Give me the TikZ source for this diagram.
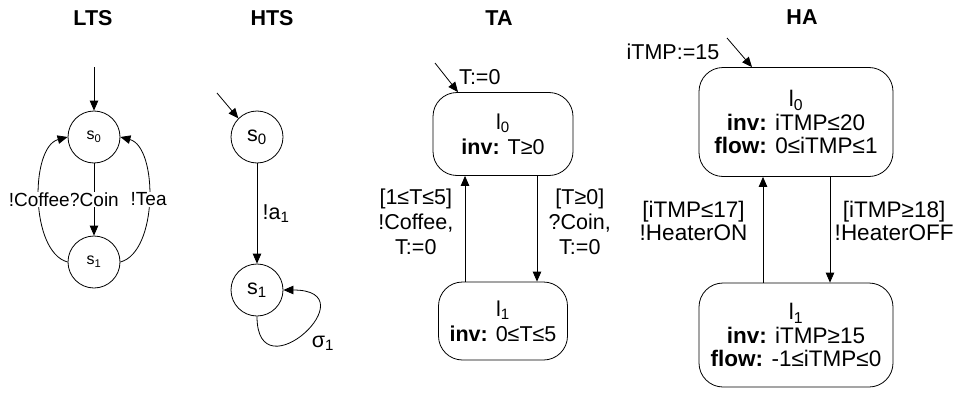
\documentclass[tikz,border=0pt]{standalone}
\usepackage{fontspec}
\setmainfont{Liberation Sans}
\usetikzlibrary{arrows.meta}

\begin{document}
\begin{tikzpicture}[
    x=1pt, y=-1pt,
    every node/.style={font=\fontsize{21.5}{25}\selectfont},
    title/.style={font=\fontsize{21.5}{24}\selectfont\bfseries},
    small/.style={font=\fontsize{19}{21}\selectfont},
    big/.style={font=\fontsize{22.5}{23.5}\selectfont},
    state/.style={
        circle,
        draw,
        line width=0.8pt,
        minimum size=52pt,
        inner sep=0pt
    },
    loc/.style={
        rectangle,
        rounded corners=24pt,
        draw,
        line width=0.8pt,
        inner sep=0pt,
        align=center
    },
    lbl/.style={fill=white, inner sep=1pt},
    arrow/.style={-{Triangle[length=10pt,width=8.5pt]}, line width=0.8pt}
]
\useasboundingbox (0,0) rectangle (960,396);

% LTS
\node[title] (tLTS) at (93,18) {LTS};
\node[state, font=\fontsize{16}{18}\selectfont] (ls0) at (94,137) {s\textsubscript{0}};
\node[state, font=\fontsize{16}{18}\selectfont] (ls1) at (94,262) {s\textsubscript{1}};
\coordinate (lin) at (94,67);

\draw[arrow] (lin) -- (ls0);
\draw[arrow] (ls0) -- node[lbl, small] {?Coin} (ls1);
\draw[arrow] (ls1.west) to[out=165, in=195, looseness=0.8] node[lbl, small] {!Coffee} (ls0.west);
\draw[arrow] (ls1.east) to[out=15, in=-15, looseness=0.8] node[lbl, small] {!Tea} (ls0.east);

% HTS
\node[title] (tHTS) at (272,18) {HTS};
\node[state] (hs0) at (257,137) {s\textsubscript{0}};
\node[state] (hs1) at (257,290) {s\textsubscript{1}};
\coordinate (hin) at (217,93);

\draw[arrow] (hin) -- (hs0.north west);
\draw[arrow] (hs0) -- node[right, xshift=2pt] {!a\textsubscript{1}} (hs1);
\draw[arrow] (hs1.south) .. controls +(0,80) and +(88,0) .. (hs1.east);
\node (sig) at (323,343) {σ\textsubscript{1}};

% TA
\node[title] (tTA) at (499,18) {TA};
\node[loc, minimum width=140pt, minimum height=83pt] (tl0) at (503,134)
    {l\textsubscript{0}\\\textbf{inv:} T≥0};
\node[loc, minimum width=129pt, minimum height=78pt] (tl1) at (503,321)
    {l\textsubscript{1}\\\textbf{inv:} 0≤T≤5};
\coordinate (tin) at (435,63);

\draw[arrow] (tin) -- node[anchor=west, xshift=9pt] {T:=0} ([xshift=-45pt]tl0.north);
\draw[arrow] ([xshift=-38pt]tl1.north) -- node[anchor=east, xshift=-8pt, yshift=7pt, align=center]
    {[1≤T≤5]\\!Coffee,\\T:=0} ([xshift=-38pt]tl0.south);
\draw[arrow] ([xshift=34pt]tl0.south) -- node[anchor=west, xshift=8pt, yshift=7pt, align=center]
    {[T≥0]\\?Coin,\\T:=0} ([xshift=34pt]tl1.north);

% HA
\node[title] (tHA) at (802,17) {HA};
\node[loc, big, minimum width=194pt, minimum height=109pt] (al0) at (796,122)
    {l\textsubscript{0}\\\textbf{inv:} iTMP≤20\\\textbf{flow:} 0≤iTMP≤1};
\node[loc, big, minimum width=194pt, minimum height=104pt] (al1) at (796,335)
    {l\textsubscript{1}\\\textbf{inv:} iTMP≥15\\\textbf{flow:} -1≤iTMP≤0};
\coordinate (ain) at (727,38);

\draw[arrow] (ain) node[anchor=north east, xshift=-4pt, yshift=-2pt] {iTMP:=15} -- ([xshift=-44pt]al0.north);
\draw[arrow] ([xshift=-33pt]al1.north) -- node[big, anchor=east, xshift=-12pt, yshift=9pt, align=center]
    {[iTMP≤17]\\!HeaterON} ([xshift=-33pt]al0.south);
\draw[arrow] ([xshift=34pt]al0.south) -- node[big, anchor=west, xshift=1pt, yshift=9pt, align=center]
    {[iTMP≥18]\\!HeaterOFF} ([xshift=34pt]al1.north);

\end{tikzpicture}
\end{document}
